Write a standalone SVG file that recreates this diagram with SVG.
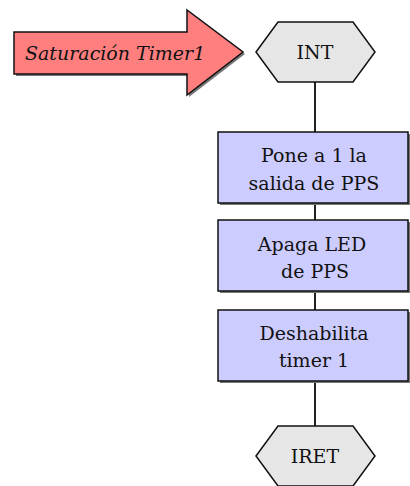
<svg xmlns="http://www.w3.org/2000/svg" width="410" height="486" viewBox="0 0 410 486">
<defs>
<style>
.t{font-family:"DejaVu Serif","Liberation Serif",serif;font-size:19px;fill:#111;text-anchor:middle}
.box{fill:#ccccff;stroke:#111;stroke-width:1.5}
.shadow{fill:#777}
.hex{fill:#e6e6e6;stroke:#111;stroke-width:1.5}
.conn{stroke:#222;stroke-width:2;fill:none}
</style>
</defs>
<rect width="410" height="486" fill="#ffffff"/>
<g id="connectors">
<line class="conn" x1="315" y1="82" x2="315" y2="132"/>
<line class="conn" x1="315" y1="203" x2="315" y2="220"/>
<line class="conn" x1="315" y1="292" x2="315" y2="310"/>
<line class="conn" x1="315" y1="382" x2="315" y2="426"/>
</g>
<g id="saturacion">
<polygon points="16,34 189,34 189,12 245,54 189,97 189,76 16,76" fill="#777"/>
<polygon points="14,32 187,32 187,10 243,52 187,95 187,74 14,74" fill="#ff7f7f" stroke="#111" stroke-width="1.5"/>
<text x="25" y="60" font-family="'DejaVu Serif','Liberation Serif',serif" font-size="19" font-style="italic" fill="#111">Saturación Timer1</text>
</g>
<g id="int">
<polygon class="hex" points="256,52 278,22 353,22 375,52 353,82 278,82"/>
<text class="t" x="315" y="59">INT</text>
</g>
<g id="box1">
<rect class="shadow" x="220" y="134" width="190" height="71"/>
<rect class="box" x="218" y="132" width="190" height="71"/>
<text class="t" x="314" y="162">Pone a 1 la</text>
<text class="t" x="314" y="190">salida de PPS</text>
</g>
<g id="box2">
<rect class="shadow" x="220" y="222" width="190" height="71"/>
<rect class="box" x="218" y="220" width="190" height="71"/>
<text class="t" x="312" y="251">Apaga LED</text>
<text class="t" x="315" y="278">de PPS</text>
</g>
<g id="box3">
<rect class="shadow" x="220" y="312" width="190" height="71"/>
<rect class="box" x="218" y="310" width="190" height="71"/>
<text class="t" x="314" y="340">Deshabilita</text>
<text class="t" x="314" y="367">timer 1</text>
</g>
<g id="iret">
<polygon class="hex" points="256,456 278,426 353,426 375,456 353,486 278,486"/>
<text class="t" x="315" y="463">IRET</text>
</g>
</svg>
